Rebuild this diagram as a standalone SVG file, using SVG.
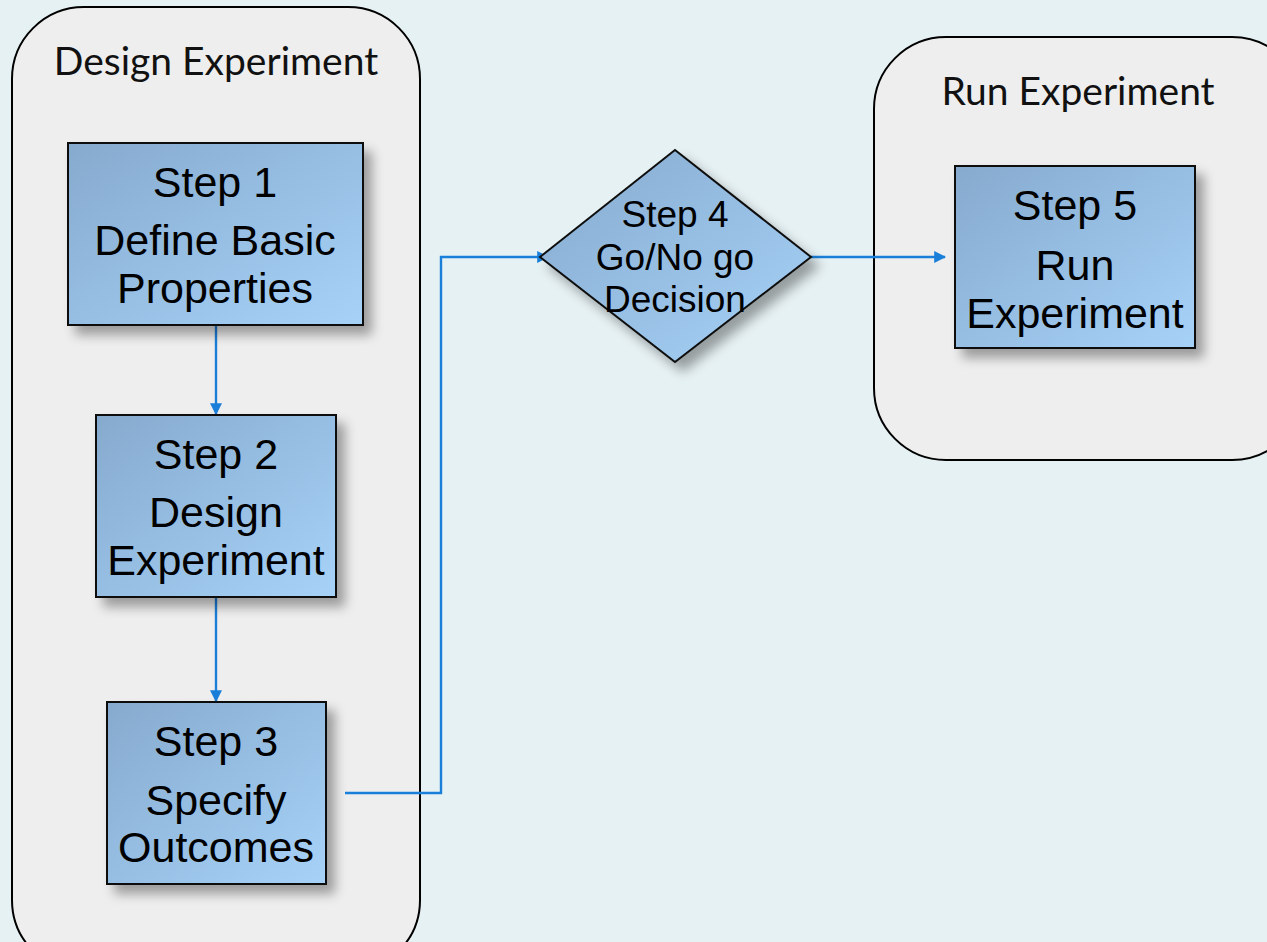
<svg xmlns="http://www.w3.org/2000/svg" width="1267" height="942" viewBox="0 0 1267 942">
  <style>
    .lane { fill: #EEEEEE; stroke: #000; stroke-width: 2; }
    .lane-title { font-family: "Lato", "Liberation Sans", sans-serif; font-size: 39px; fill: #111; text-anchor: middle; }
    .step { fill: url(#stepFill); stroke: #111; stroke-width: 2; filter: url(#shadow); }
    .label { font-family: "Liberation Sans", Arial, sans-serif; font-size: 43px; fill: #000; text-anchor: middle; }
    .label-sm { font-family: "Liberation Sans", Arial, sans-serif; font-size: 37px; fill: #000; text-anchor: middle; }
    .flow { fill: none; stroke: #1A7FD9; stroke-width: 2.4; }
  </style>
  <defs>
    <linearGradient id="stepFill" x1="0" y1="0" x2="1" y2="1">
      <stop offset="0" stop-color="#86AACE"/>
      <stop offset="1" stop-color="#A7D2F8"/>
    </linearGradient>
    <filter id="shadow" x="-20%" y="-20%" width="150%" height="150%">
      <feGaussianBlur in="SourceAlpha" stdDeviation="6"/>
      <feOffset dx="8" dy="9" result="b"/>
      <feComponentTransfer><feFuncA type="linear" slope="0.35"/></feComponentTransfer>
      <feMerge><feMergeNode/><feMergeNode in="SourceGraphic"/></feMerge>
    </filter>
    <marker id="arrow" viewBox="0 0 10 10" refX="9" refY="5" markerWidth="5" markerHeight="5" orient="auto" markerUnits="strokeWidth">
      <path d="M0,0 L10,5 L0,10 z" fill="#1A7FD9"/>
    </marker>
  </defs>

  <rect width="1267" height="942" fill="#E6F1F4"/>

  <!-- swimlanes -->
  <g id="lane-design">
    <rect class="lane" x="12" y="7" width="408" height="965" rx="72" ry="72"/>
    <text class="lane-title" x="216" y="75">Design Experiment</text>
  </g>
  <g id="lane-run">
    <rect class="lane" x="874" y="37" width="430" height="423" rx="72" ry="72"/>
    <text class="lane-title" x="1078" y="105">Run Experiment</text>
  </g>

  <!-- connectors -->
  <g id="connectors">
    <path class="flow" d="M216,325 L216,414" marker-end="url(#arrow)"/>
    <path class="flow" d="M216,597 L216,701" marker-end="url(#arrow)"/>
    <path class="flow" d="M345,793 L441,793 L441,257 L548,257" marker-end="url(#arrow)"/>
    <path class="flow" d="M811,257 L945,257" marker-end="url(#arrow)"/>
  </g>

  <!-- steps -->
  <g id="step1">
    <rect class="step" x="68" y="143" width="295" height="182"/>
    <text class="label" x="215" y="197">Step 1</text>
    <text class="label" x="215" y="255">Define Basic</text>
    <text class="label" x="215" y="303">Properties</text>
  </g>
  <g id="step2">
    <rect class="step" x="96" y="415" width="240" height="182"/>
    <text class="label" x="216" y="469">Step 2</text>
    <text class="label" x="216" y="527">Design</text>
    <text class="label" x="216" y="575">Experiment</text>
  </g>
  <g id="step3">
    <rect class="step" x="107" y="702" width="219" height="182"/>
    <text class="label" x="216" y="756">Step 3</text>
    <text class="label" x="216" y="815">Specify</text>
    <text class="label" x="216" y="862">Outcomes</text>
  </g>
  <g id="step4">
    <polygon class="step" points="540,257 675,150 811,257 675,362"/>
    <text class="label-sm" x="675" y="227">Step 4</text>
    <text class="label-sm" x="675" y="270">Go/No go</text>
    <text class="label-sm" x="675" y="312">Decision</text>
  </g>
  <g id="step5">
    <rect class="step" x="955" y="166" width="240" height="182"/>
    <text class="label" x="1075" y="220">Step 5</text>
    <text class="label" x="1075" y="280">Run</text>
    <text class="label" x="1075" y="328">Experiment</text>
  </g>
</svg>
